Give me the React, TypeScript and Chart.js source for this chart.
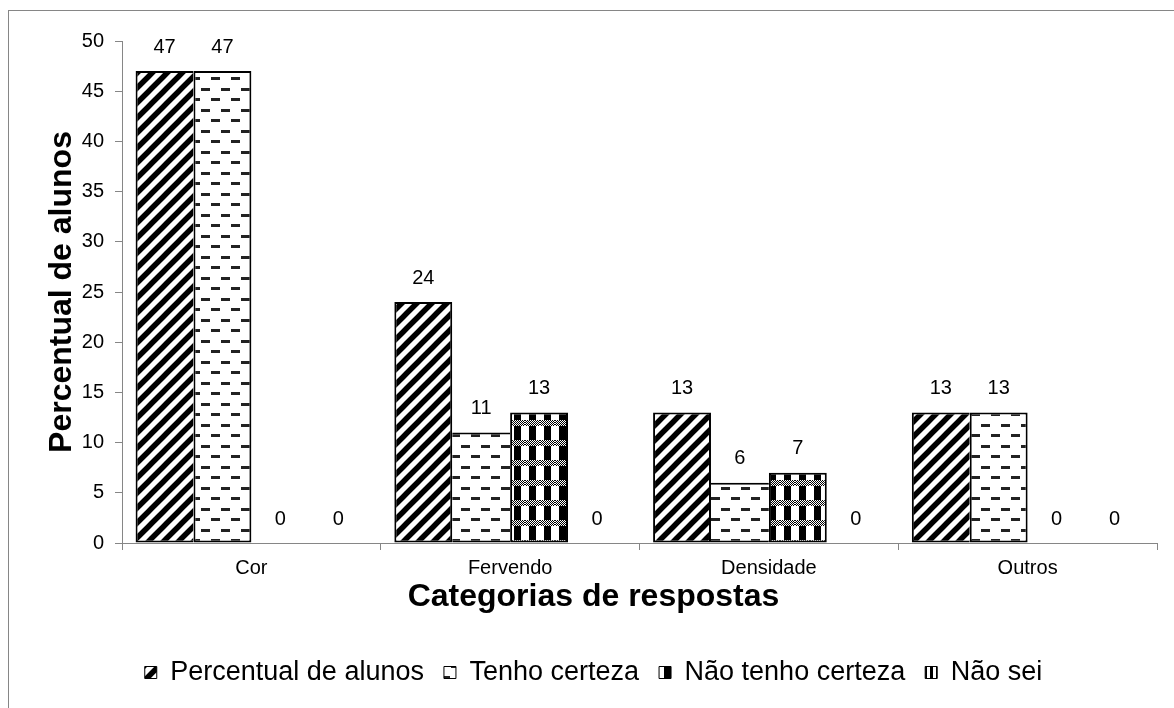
import React, { useEffect, useRef } from "react";
import { Chart, registerables } from "chart.js";

Chart.register(...registerables);

const categories = ["Cor", "Fervendo", "Densidade", "Outros"];
const seriesNames = ["Percentual de alunos", "Tenho certeza", "Não tenho certeza", "Não sei"];
const percentualDeAlunos = [47, 24, 13, 13];
const tenhoCerteza = [47, 11, 6, 13];
const naoTenhoCerteza = [0, 13, 7, 0];
const naoSei = [0, 0, 0, 0];
const yMin = 0;
const yMax = 50;
const yStep = 5;
const xTitle = "Categorias de respostas";
const yTitle = "Percentual de alunos";

const FONT = '"Liberation Sans", Arial, Helvetica, sans-serif';
const AXIS_GRAY = "#868686";

function tile(w: number, h: number, draw: (c: CanvasRenderingContext2D) => void) {
  const c = document.createElement("canvas");
  c.width = w;
  c.height = h;
  const g = c.getContext("2d") as CanvasRenderingContext2D;
  g.fillStyle = "#ffffff";
  g.fillRect(0, 0, w, h);
  draw(g);
  return c;
}

function makePatterns(ctx: CanvasRenderingContext2D) {
  const s = 15;
  const diag = tile(s, s, (g) => {
    g.strokeStyle = "#000";
    g.lineWidth = 5.5;
    g.beginPath();
    g.moveTo(-s / 2, s / 2);
    g.lineTo(s / 2, -s / 2);
    g.moveTo(-s / 2, (3 * s) / 2);
    g.lineTo((3 * s) / 2, -s / 2);
    g.moveTo(s / 2, (3 * s) / 2);
    g.lineTo((3 * s) / 2, s / 2);
    g.stroke();
  });
  const dash = tile(20, 21, (g) => {
    g.fillStyle = "#222";
    g.fillRect(1, 4, 9, 3);
    g.fillRect(11, 14, 9, 3);
  });
  const check = tile(15, 20, (g) => {
    g.fillStyle = "#000";
    for (let x = 0; x < 15; x++) {
      for (let y = 0; y < 6; y++) {
        if ((x + y) % 2 === 0) g.fillRect(x, y, 1, 1);
      }
    }
    g.fillRect(4, 6, 7, 14);
  });
  const vert = tile(6, 6, (g) => {
    g.fillStyle = "#000";
    g.fillRect(0, 0, 3, 6);
  });
  return [diag, dash, check, vert].map((t) => ctx.createPattern(t, "repeat") as CanvasPattern);
}

const allSeries = [percentualDeAlunos, tenhoCerteza, naoTenhoCerteza, naoSei];

const valueLabels = {
  id: "valueLabels",
  afterDatasetsDraw(chart: any) {
    const ctx = chart.ctx as CanvasRenderingContext2D;
    ctx.save();
    ctx.font = `20px ${FONT}`;
    ctx.fillStyle = "#000";
    ctx.textAlign = "center";
    ctx.textBaseline = "middle";
    chart.data.datasets.forEach((ds: any, i: number) => {
      const meta = chart.getDatasetMeta(i);
      meta.data.forEach((bar: any, j: number) => {
        ctx.fillText(String(ds.data[j]), bar.x, bar.y - 24);
      });
    });
    ctx.restore();
  },
};

export default function App() {
  const ref = useRef<HTMLCanvasElement | null>(null);

  useEffect(() => {
    const canvas = ref.current;
    if (!canvas) return;
    const ctx = canvas.getContext("2d") as CanvasRenderingContext2D;
    const patterns = makePatterns(ctx);

    const borderFor = (c: any) => {
      const i = c.datasetIndex;
      const j = c.dataIndex;
      if (j === undefined || i === undefined) return 1;
      const v = allSeries[i][j];
      if (!v) return 0;
      const prev = i > 0 ? allSeries[i - 1][j] : 0;
      const next = i < allSeries.length - 1 ? allSeries[i + 1][j] : 0;
      return { top: 2, bottom: 2, left: v >= prev ? 2 : 0, right: v > next ? 2 : 0 };
    };

    const padLeft = 30;
    const chart = new Chart(canvas, {
      type: "bar",
      data: {
        labels: categories,
        datasets: allSeries.map((d, i) => ({
          label: seriesNames[i],
          data: d,
          backgroundColor: patterns[i],
          borderColor: "#000",
          borderWidth: borderFor,
          borderSkipped: false,
          categoryPercentage: 0.895,
          barPercentage: 1.0,
        })),
      },
      options: {
        responsive: false,
        animation: false,
        devicePixelRatio: 1,
        layout: { padding: { left: padLeft, right: 17, top: 41, bottom: 12 } },
        plugins: {
          tooltip: { enabled: false },
          title: {
            display: true,
            position: "bottom",
            weight: 500,
            text: xTitle,
            color: "#000",
            font: { family: FONT, size: 32, weight: "bold" },
            padding: { top: -2.8, bottom: 22.8 },
          },
          legend: {
            display: true,
            position: "bottom",
            labels: {
              font: { family: FONT, size: 27 },
              color: "#000",
              boxWidth: 12,
              boxHeight: 12,
              padding: 20,
              generateLabels: (ch: any) =>
                ch.data.datasets.map((ds: any, i: number) => ({
                  text: ds.label,
                  fillStyle: ds.backgroundColor,
                  strokeStyle: "#000",
                  lineWidth: 1,
                  hidden: false,
                  datasetIndex: i,
                  fontColor: "#000",
                })),
            },
          },
        },
        scales: {
          x: {
            grid: {
              offset: true,
              drawOnChartArea: false,
              drawTicks: true,
              tickLength: 7,
              color: AXIS_GRAY,
            },
            border: { display: true, color: AXIS_GRAY, width: 1 },
            ticks: {
              font: { family: FONT, size: 20 },
              color: "#000",
              padding: 6,
              maxRotation: 0,
              autoSkip: false,
            },
            afterFit: (s: any) => {
              s.height = 37.6;
            },
          },
          y: {
            min: yMin,
            max: yMax,
            grid: {
              drawOnChartArea: false,
              drawTicks: true,
              tickLength: 7,
              color: AXIS_GRAY,
            },
            border: { display: true, color: AXIS_GRAY, width: 1 },
            ticks: {
              stepSize: yStep,
              font: { family: FONT, size: 20 },
              color: "#000",
              padding: 11,
            },
            title: {
              display: true,
              text: yTitle,
              color: "#000",
              font: { family: FONT, size: 32, weight: "bold" },
              padding: { top: 13, bottom: 0 },
            },
            afterFit: (s: any) => {
              s.width = 122 - padLeft;
            },
          },
        },
      },
      plugins: [valueLabels],
    } as any);

    return () => chart.destroy();
  }, []);

  return (
    <div
      style={{
        position: "absolute",
        left: 0,
        top: 0,
        width: 1174,
        height: 708,
        overflow: "hidden",
        background: "#fff",
      }}
    >
      <div
        style={{
          position: "absolute",
          left: 8,
          top: 10,
          width: 1300,
          height: 900,
          borderLeft: `1px solid ${AXIS_GRAY}`,
          borderTop: `1px solid ${AXIS_GRAY}`,
        }}
      />
      <canvas
        ref={ref}
        width={1174}
        height={708}
        style={{ position: "absolute", left: 0, top: 0, width: 1174, height: 708 }}
      />
    </div>
  );
}
